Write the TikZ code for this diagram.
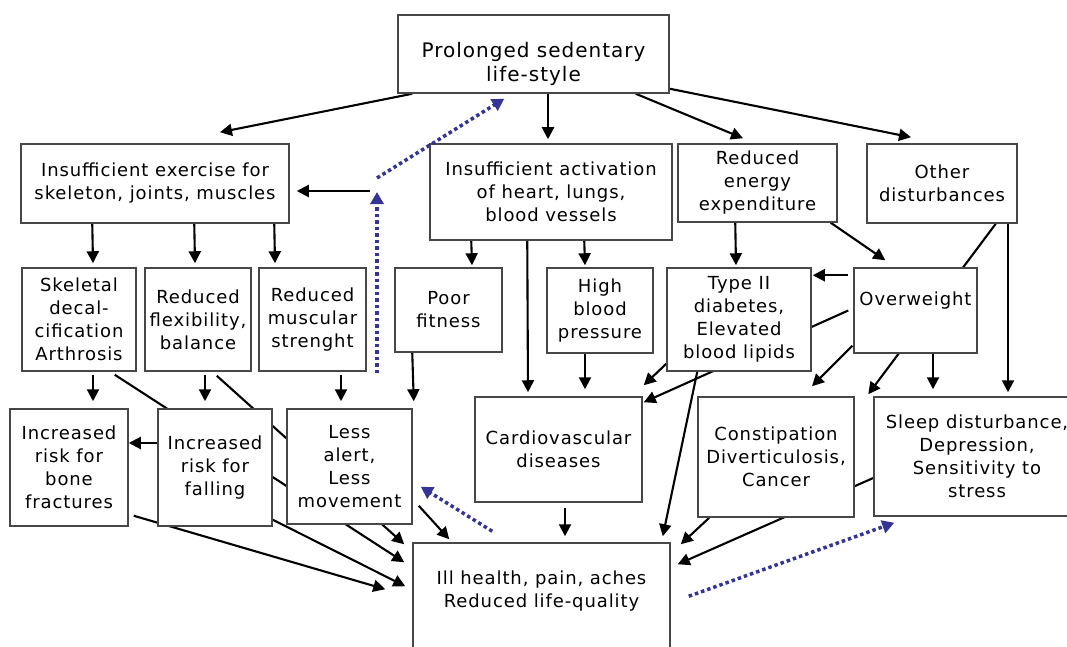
\documentclass[tikz,border=0pt]{standalone}
\usepackage{fontspec}
\newfontfamily\boxfont{DejaVu Sans}[LetterSpace=5]
\usetikzlibrary{arrows.meta,calc,backgrounds}
\definecolor{fbblue}{RGB}{52,52,150}

\begin{document}
\begin{tikzpicture}[x=1pt, y=-1pt,
  box/.style={draw=black!72, line width=1.5pt, fill=white, align=center,
    inner sep=0pt, font=\boxfont\fontsize{18}{23}\selectfont},
  sz/.style 2 args={minimum width=#1, minimum height=#2},
  link/.style={line width=2.1pt, -{Triangle[length=12pt,width=12pt]}},
  feedback/.style={fbblue, line width=3.5pt, dash pattern=on 3.5pt off 3pt,
    -{Triangle[length=12pt,width=13pt]}}]

  \useasboundingbox (0,0) rectangle (1067,647);

  % ---- top row ----
  \node[box, sz={271}{78}, text height=60pt, font=\boxfont\fontsize{20}{24}\selectfont] (life) at (533.5,54) {Prolonged sedentary\\life-style};
  \node[box, sz={268}{79}] (exercise) at (155,183.5) {Insufficient exercise for\\skeleton, joints, muscles};
  \node[box, sz={242}{96}] (activation) at (551,192) {Insufficient activation\\of heart, lungs,\\blood vessels};
  \node[box, sz={159}{78}] (energy) at (757.5,183) {Reduced\\energy\\expenditure};
  \node[box, sz={150}{79}] (other) at (942,183.5) {Other\\disturbances};

  % ---- second row ----
  \node[box, sz={114}{103}] (skeletal) at (79,319.5) {Skeletal\\decal-\\cification\\Arthrosis};
  \node[box, sz={106}{103}] (flex) at (198,319.5) {Reduced\\flexibility,\\balance};
  \node[box, sz={107}{103}] (muscular) at (312.5,319.5) {Reduced\\muscular\\strenght};
  \node[box, sz={107}{84}] (fitness) at (448.5,310) {Poor\\fitness};
  \node[box, sz={106}{85}] (pressure) at (600,310.5) {High\\blood\\pressure};
  \node[box, sz={144}{103}] (diabetes) at (739,319.5) {Type II\\diabetes,\\Elevated\\blood lipids};
  \node[box, sz={123}{85}, text depth=23pt] (overweight) at (915.5,310.5) {Overweight};

  % ---- third row ----
  \node[box, sz={118}{117}] (bone) at (69,467.5) {Increased\\risk for\\bone\\fractures};
  \node[box, sz={114}{117}] (falling) at (215,467.5) {Increased\\risk for\\falling};
  \node[box, sz={125}{115}] (alert) at (349.5,466.5) {Less\\alert,\\Less\\movement};
  \node[box, sz={167}{105}] (cardio) at (558.5,449.5) {Cardiovascular\\diseases};
  \node[box, sz={156}{120}] (constip) at (776,457) {Constipation\\Diverticulosis,\\Cancer};
  \node[box, sz={206}{119}] (sleep) at (977,456.5) {Sleep disturbance,\\Depression,\\Sensitivity to\\stress};

  % ---- outcome ----
  \node[box, sz={257}{177}, text depth=84pt] (ill) at (541.5,631.5) {Ill health, pain, aches\\Reduced life-quality};

  \coordinate (loop) at (377,190);
  \coordinate (loopfoot) at (377,373);

  % ---- connectors, behind the boxes ----
  \begin{scope}[on background layer]
    \draw[link] ($(life.south west)+(15,0)$) -- ($(exercise.north)+(65,-11)$);
    \draw[link] ($(life.south)+(14.5,0)$) -- ($(activation.north)+(-3,-4)$);
    \draw[link] ($(life.south east)+(-34,0)$) -- ($(energy.north)+(-14.5,-5)$);
    \draw[link] ($(life.south east)+(0,-5)$) -- ($(other.north)+(-31,-6)$);
    \draw[link] ($(loop)+(-7,1)$) -- ($(exercise.east)+(7,7.5)$);

    \draw[link] ($(exercise.south west)+(72,0)$) -- ($(skeletal.north)+(14,-4)$);
    \draw[link] ($(exercise.south west)+(174,0)$) -- ($(flex.north)+(-3,-4)$);
    \draw[link] ($(exercise.south west)+(254,0)$) -- ($(muscular.north)+(-37.5,-4)$);

    \draw[link] ($(activation.south west)+(42,0)$) -- ($(fitness.north)+(23.5,-2)$);
    \draw[link] ($(activation.south west)+(98,0)$) -- ($(cardio.north)+(-30.5,-4)$);
    \draw[link] ($(activation.south west)+(155,0)$) -- ($(pressure.north)+(-15,-2)$);

    \draw[link] ($(energy.south west)+(58,0)$) -- ($(diabetes.north)+(-3,-2)$);
    \draw[link] ($(energy.south east)+(-7,0)$) -- ($(overweight.north west)+(32,-7)$);

    \draw[link] ($(other.south east)+(-22,0)$) -- ($(sleep.north west)+(-5,-2)$);
    \draw[link] ($(other.south)+(66,0)$) -- ($(sleep.north)+(31,-4)$);

    \draw[link] ($(overweight.north west)+(-5,8)$) -- ($(diabetes.north east)+(1,8)$);
    \draw[link] ($(overweight.west)+(-5,0)$) -- ($(cardio.north east)+(1,6)$);
    \draw[link] ($(overweight.south west)+(-1,-8)$) -- ($(constip.north)+(36,-10)$);
    \draw[link] ($(overweight.south)+(17.5,0)$) -- ($(sleep.north)+(-44,-7)$);

    \draw[link] ($(diabetes.south west)+(0,-8)$) -- ($(cardio.north east)+(1,-11)$);
    \draw[link] ($(diabetes.south west)+(31,0)$) -- ($(ill.north east)+(-8,-6)$);
    \draw[link] ($(pressure.south)+(-15,0)$) -- ($(cardio.north)+(26.5,-7)$);
    \draw[link] ($(fitness.south west)+(18,0)$) -- ($(alert.north east)+(1,-7)$);

    \draw[link] ($(skeletal.south)+(14,3)$) -- ($(bone.north)+(24,-7)$);
    \draw[link] ($(flex.south)+(7,3)$) -- ($(falling.north)+(-10,-7)$);
    \draw[link] ($(muscular.south)+(28.5,3)$) -- ($(alert.north)+(-8.5,-7)$);
    \draw[link] ($(skeletal.south east)+(-22,3)$) -- ($(ill.north west)+(-8,20)$);
    \draw[link] ($(flex.south east)+(-35,4)$) -- ($(ill.north west)+(-8,2)$);
    \draw[link] ($(falling.west)+(0,-24.5)$) -- ($(bone.east)+(0,-24.5)$);
    \draw[link] ($(falling.south east)+(0,-7)$) -- ($(ill.north west)+(-7,44)$);
    \draw[link] ($(bone.south east)+(5,-11)$) -- ($(ill.north west)+(-27,47)$);
    \draw[link] ($(alert.south east)+(6,-19)$) -- ($(ill.north west)+(37,-3)$);

    \draw[link] ($(cardio.south)+(6.5,5)$) -- ($(ill.north)+(23.5,-6)$);
    \draw[link] ($(constip.south west)+(12,0)$) -- ($(ill.north east)+(10,2)$);
    \draw[link] ($(sleep.west)+(0,21.5)$) -- ($(ill.north east)+(7,22)$);
  \end{scope}

  % ---- dotted feedback loops ----
  \draw[feedback] (loopfoot) -- ($(loop)+(0,2)$);
  \draw[feedback] ($(loop)+(0,-12)$) -- ($(life.south west)+(107,5)$);
  \draw[feedback] ($(ill.north west)+(80,-11)$) -- ($(alert.south east)+(8,-38)$);
  \draw[feedback] ($(ill.north east)+(18,54)$) -- ($(sleep.south west)+(21,6)$);

\end{tikzpicture}
\end{document}
